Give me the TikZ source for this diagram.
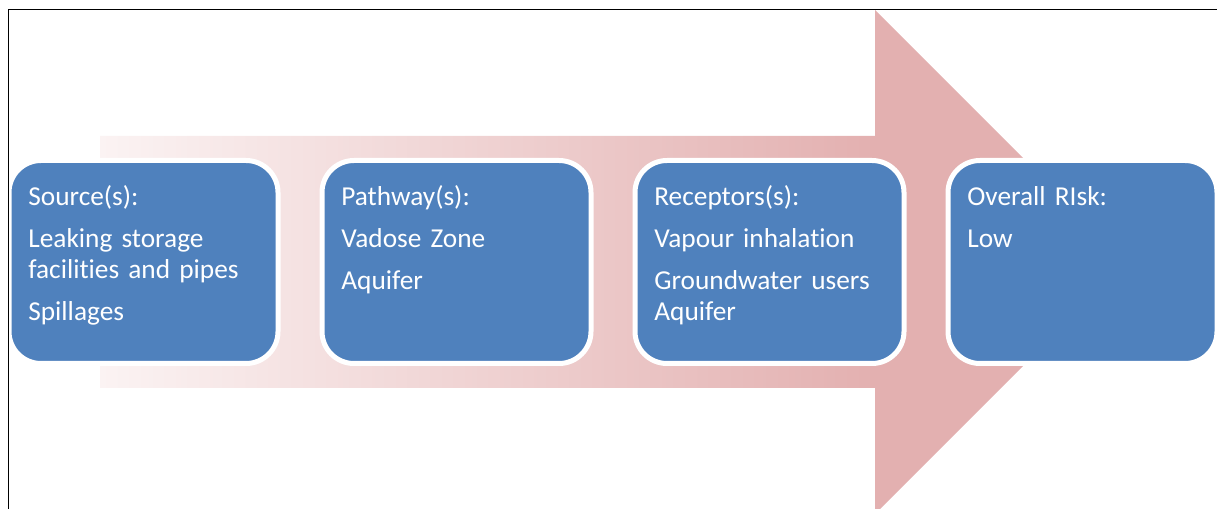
\documentclass[tikz,border=0pt]{standalone}
\usepackage{fontspec}
\setmainfont{Carlito}[Ligatures=NoCommon]
\usepackage{xcolor}
\usepackage{tikz}
\usetikzlibrary{positioning}

\definecolor{boxblue}{RGB}{79,129,189}
\definecolor{fadepink}{RGB}{251,243,243}
\definecolor{arrowpink}{RGB}{227,176,176}
\pgfdeclarehorizontalshading{arrowfade}{100bp}{color(0bp)=(fadepink); color(25bp)=(fadepink); color(62.75bp)=(arrowpink); color(100bp)=(arrowpink)}

\begin{document}
\begin{tikzpicture}[
    x=0.75pt, y=-0.75pt,
    node distance=33pt,
    box/.style={rectangle, rounded corners=24pt, draw=white, line width=3.75pt, fill=boxblue, minimum width=201.75pt, minimum height=152.25pt, inner sep=0pt, outer sep=0pt},
    txt/.style={anchor=base west, text=white, font=\fontsize{20.5}{23.25}\selectfont, align=left, text width=190pt, inner sep=0pt},
    frame/.style={line width=1.2pt, black}
]
\useasboundingbox (0,0) rectangle (1217,509);
\clip (0,0) rectangle (1217,509);

% Big arrow behind the boxes
\shade[shading=arrowfade] (100,136) -- (875,136) -- (875,10) -- (1127,262) -- (875,514) -- (875,388) -- (100,388) -- cycle;

% Boxes
\node[box] (src) at (143.5,262) {};
\node[box, right=of src] (path) {};
\node[box, right=of path] (recep) {};
\node[box, right=of recep] (risk) {};

% Texts
\node[txt] (srctxt) at ([xshift=14.3pt, yshift=-33.4pt]src.north west) {Source(s):\\[8.6pt] Leaking storage\\ facilities and pipes\\[8.6pt] Spillages};
\node[txt] (pathtxt) at ([xshift=14.3pt, yshift=-33.4pt]path.north west) {Pathway(s):\\[8.6pt] Vadose Zone\\[8.6pt] Aquifer};
\node[txt] (receptxt) at ([xshift=14.3pt, yshift=-33.4pt]recep.north west) {Receptors(s):\\[8.6pt] Vapour inhalation\\[8.6pt] Groundwater users\\ Aquifer};
\node[txt] (risktxt) at ([xshift=14.3pt, yshift=-33.4pt]risk.north west) {Overall RIsk:\\[8.6pt] Low};

% Frame
\draw[frame] (8.5,509) -- (8.5,9.5) -- (1217,9.5);

\end{tikzpicture}
\end{document}
